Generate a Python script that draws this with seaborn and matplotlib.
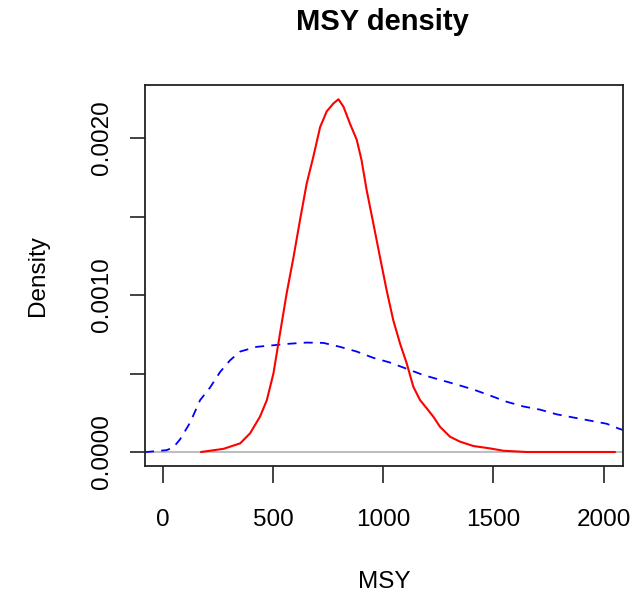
import numpy as np
import pandas as pd
import matplotlib
matplotlib.use("Agg")
import matplotlib.pyplot as plt
import seaborn as sns

# Prior density (blue dashed)
prior_x = [-82, -74, 17, 47, 77, 123, 168, 213, 259, 304, 350, 425, 501, 576, 652,
           728, 803, 879, 954, 1030, 1106, 1182, 1257, 1333, 1409, 1484, 1560,
           1636, 1711, 1787, 1862, 1938, 2014, 2067, 2088]
prior_y = [0.0, 0.0, 1.2e-5, 3.0e-5, 8.0e-5, 1.88e-4, 3.3e-4, 4.1e-4, 5.1e-4, 5.84e-4,
           6.4e-4, 6.7e-4, 6.8e-4, 6.9e-4, 6.97e-4, 6.95e-4, 6.7e-4, 6.4e-4, 6.0e-4,
           5.7e-4, 5.3e-4, 4.9e-4, 4.6e-4, 4.3e-4, 3.98e-4, 3.6e-4, 3.2e-4, 2.9e-4,
           2.7e-4, 2.4e-4, 2.2e-4, 2.0e-4, 1.8e-4, 1.5e-4, 1.4e-4]

# Posterior density (red solid)
post_x = [172, 274, 350, 395, 440, 471, 501, 531, 561, 592, 622, 652, 682, 713, 743,
          773, 796, 819, 849, 879, 901, 924, 954, 985, 1015, 1045, 1076, 1106, 1136,
          1167, 1197, 1227, 1257, 1303, 1348, 1409, 1484, 1545, 1650, 2052]
post_y = [0.0, 2.0e-5, 5.5e-5, 1.19e-4, 2.25e-4, 3.3e-4, 5.0e-4, 7.56e-4, 1.01e-3,
          1.24e-3, 1.48e-3, 1.71e-3, 1.88e-3, 2.07e-3, 2.17e-3, 2.22e-3, 2.247e-3,
          2.2e-3, 2.09e-3, 1.99e-3, 1.86e-3, 1.67e-3, 1.46e-3, 1.24e-3, 1.03e-3,
          8.4e-4, 6.9e-4, 5.65e-4, 4.16e-4, 3.3e-4, 2.78e-4, 2.25e-4, 1.61e-4,
          9.7e-5, 6.6e-5, 3.8e-5, 2.3e-5, 8e-6, 0.0, 0.0]

x_ticks = [0, 500, 1000, 1500, 2000]
y_ticks = [0.0, 0.0005, 0.0010, 0.0015, 0.0020]
y_tick_labels = ["0.0000", "", "0.0010", "", "0.0020"]

sns.set_style("white")
plt.rcParams['font.family'] = ['Liberation Sans', 'DejaVu Sans']
plt.rcParams['text.color'] = 'black'
plt.rcParams['axes.labelcolor'] = 'black'

fig = plt.figure(figsize=(6.32, 5.97), dpi=100)
ax = fig.add_axes([145/632, 1 - 466/597, (623 - 145)/632, (466 - 85)/597])

ax.axhline(0, color="#bebebe", lw=1.5, zorder=1)
sns.lineplot(x=post_x, y=post_y, ax=ax, color="red", lw=1.5, sort=False,
             estimator=None, zorder=3)
sns.lineplot(x=prior_x, y=prior_y, ax=ax, color="blue", lw=1.3, sort=False,
             estimator=None, zorder=2, dashes=False)
ax.lines[-1].set_dashes((5, 4))

ax.set_xlim(-82, 2088)
ax.set_ylim(-0.0000892, 0.002338)

ax.set_xticks(x_ticks)
ax.set_xticklabels([str(t) for t in x_ticks], fontsize=17.5)
ax.set_yticks(y_ticks)
ax.set_yticklabels(y_tick_labels, fontsize=17.5, rotation=90, va="center")

ax.tick_params(axis="x", bottom=True, direction="out", length=12, width=1.2, pad=19,
               color="#222222", labelcolor="black")
ax.tick_params(axis="y", left=True, direction="out", length=11, width=1.2, pad=12,
               color="#222222", labelcolor="black")
for s in ax.spines.values():
    s.set_color("#222222")
    s.set_linewidth(1.3)
    s.set_visible(True)

ax.set_xlabel("MSY", fontsize=17.5, labelpad=29, color="black")
ax.set_ylabel("Density", fontsize=17.5, labelpad=30, color="black")
fig.text(382/632, 1 - 22/597, "MSY density", fontsize=21, fontweight="bold",
         ha="center", va="center", color="black")

fig.savefig("out.png", dpi=100, facecolor="white")
